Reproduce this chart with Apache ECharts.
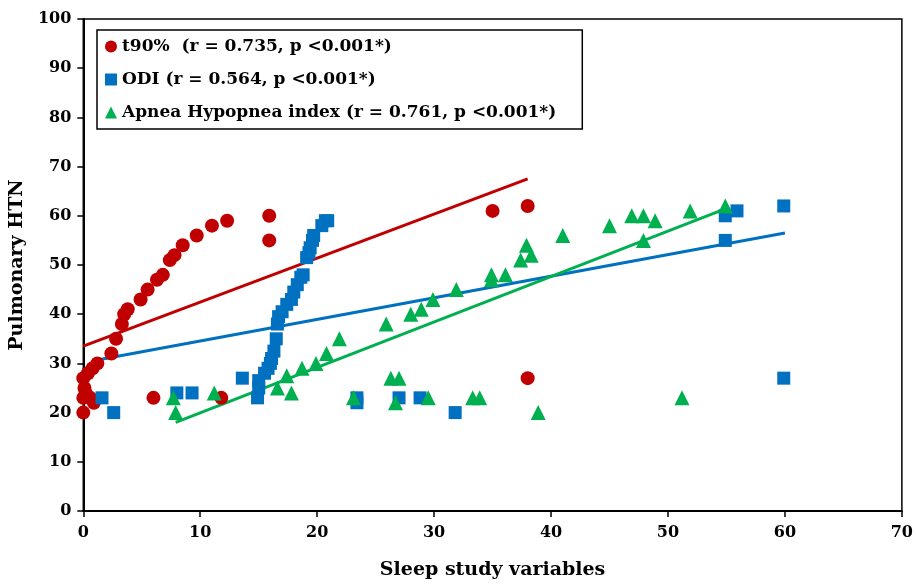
<!DOCTYPE html>
<html>
<head>
<meta charset="utf-8">
<script src="https://cdn.jsdelivr.net/npm/echarts@6/dist/echarts.min.js"></script>
<style>html,body{margin:0;padding:0;background:#fff}#c{width:916px;height:585px}</style>
</head>
<body>
<div id="c"></div>
<script>
var t90Name = 't90%  (r = 0.735, p <0.001*)';
var odiName = 'ODI (r = 0.564, p <0.001*)';
var ahiName = 'Apnea Hypopnea index (r = 0.761, p <0.001*)';

var t90Points = [[0,20],[0,23],[0.2,24],[0.1,25],[0,27],[0.4,28],[0.8,29],[1.2,30],[0.6,23],[0.9,22],
  [2.4,32],[2.8,35],[3.3,38],[3.5,40],[3.8,41],[4.9,43],[5.5,45],[6.3,47],[6.8,48],[7.4,51],[7.8,52],
  [8.5,54],[9.7,56],[11,58],[12.3,59],[6,23],[11.8,23],[15.9,60],[15.9,55],[35,61],[38,62],[38,27]];

var odiPoints = [[1.6,23],[2.6,20],[8,24],[9.3,24],[13.6,27],[14.9,23],[15,25],[15,26.5],[15.5,28],
  [15.8,29],[16,30],[16.1,31],[16.3,32.5],[16.5,35],[16.6,38],[16.7,39.5],[17,40.5],[17.4,42],[17.8,43],
  [18,44.5],[18.3,46],[18.6,47.5],[18.8,48],[19.1,51.5],[19.3,52.5],[19.4,53.5],[19.6,55],[19.7,56],
  [20.4,58],[20.7,59],[20.9,59],[23.4,22],[23.4,23],[27,23],[28.8,23],[31.8,20],
  [54.9,60],[55.9,61],[54.9,55],[59.9,62],[59.9,27]];

var ahiPoints = [[7.7,23],[7.9,20],[11.2,24],[16.6,25],[17.8,24],[17.4,27.5],[18.7,29],[19.9,30],
  [20.8,32],[21.9,35],[23.1,23],[25.9,38],[26.3,27],[27,27],[26.7,22],[28,40],[28.9,41],[29.5,23],
  [29.9,43],[31.9,45],[33.3,23],[33.9,23],[34.9,47],[34.9,48],[36.1,48],[37.4,51],[37.9,54],[38.3,52],
  [38.9,20],[41,56],[45,58],[46.9,60],[47.9,60],[48.9,59],[47.9,55],[51.2,23],[51.9,61],[54.9,62]];

var t90Trend = [[0,33.5],[38,67.5]];
var odiTrend = [[1.2,30.7],[60,56.5]];
var ahiTrend = [[7.9,18],[55,61.5]];

var xTicks = [0,70,10];
var yTicks = [0,100,10];

var red = '#C00000', blue = '#0070C0', green = '#00B050';
var font = '"DejaVu Serif",serif';

var chart = echarts.init(document.getElementById('c'));
function trend(data, color){
  return {type:'line', data:data, showSymbol:false, symbol:'none', silent:true, z:1,
    lineStyle:{color:color, width:3}};
}
chart.setOption({
  animation:false,
  backgroundColor:'#fff',
  grid:{left:83, right:10, top:19, bottom:74, show:true, borderColor:'#000', borderWidth:1.5},
  legend:{
    orient:'vertical', left:97, top:30, data:[
      {name:t90Name, icon:'circle'},{name:odiName, icon:'rect'},{name:ahiName, icon:'triangle'}],
    borderColor:'#000', borderWidth:1.5, padding:[8,26,8,8], itemGap:16,
    itemWidth:12, itemHeight:12,
    textStyle:{fontFamily:font, fontWeight:'bold', fontSize:17, color:'#000'}
  },
  xAxis:{
    type:'value', min:xTicks[0], max:xTicks[1], interval:xTicks[2],
    name:'Sleep study variables', nameLocation:'middle', nameGap:50,
    nameTextStyle:{fontFamily:font, fontWeight:'bold', fontSize:19, color:'#000'},
    axisLine:{show:true, lineStyle:{color:'#000', width:2}},
    axisTick:{show:true, length:6, lineStyle:{color:'#000', width:1.5}},
    axisLabel:{fontFamily:font, fontWeight:'bold', fontSize:16, color:'#000', margin:14},
    splitLine:{show:false}
  },
  yAxis:{
    type:'value', min:yTicks[0], max:yTicks[1], interval:yTicks[2],
    name:'Pulmonary HTN', nameLocation:'middle', nameGap:52,
    nameTextStyle:{fontFamily:font, fontWeight:'bold', fontSize:19, color:'#000'},
    axisLine:{show:true, lineStyle:{color:'#000', width:2}},
    axisTick:{show:true, length:6, lineStyle:{color:'#000', width:1.5}},
    axisLabel:{fontFamily:font, fontWeight:'bold', fontSize:16, color:'#000', margin:12},
    splitLine:{show:false}
  },
  series:[
    trend(t90Trend, red), trend(odiTrend, blue), trend(ahiTrend, green),
    {name:t90Name, type:'scatter', data:t90Points, symbol:'circle', symbolSize:14, z:3,
      itemStyle:{color:red, opacity:1}},
    {name:odiName, type:'scatter', data:odiPoints, symbol:'rect', symbolSize:13, z:3,
      itemStyle:{color:blue, opacity:1}},
    {name:ahiName, type:'scatter', data:ahiPoints, symbol:'triangle', symbolSize:15, z:3,
      itemStyle:{color:green, opacity:1}}
  ]
});
</script>
</body>
</html>
